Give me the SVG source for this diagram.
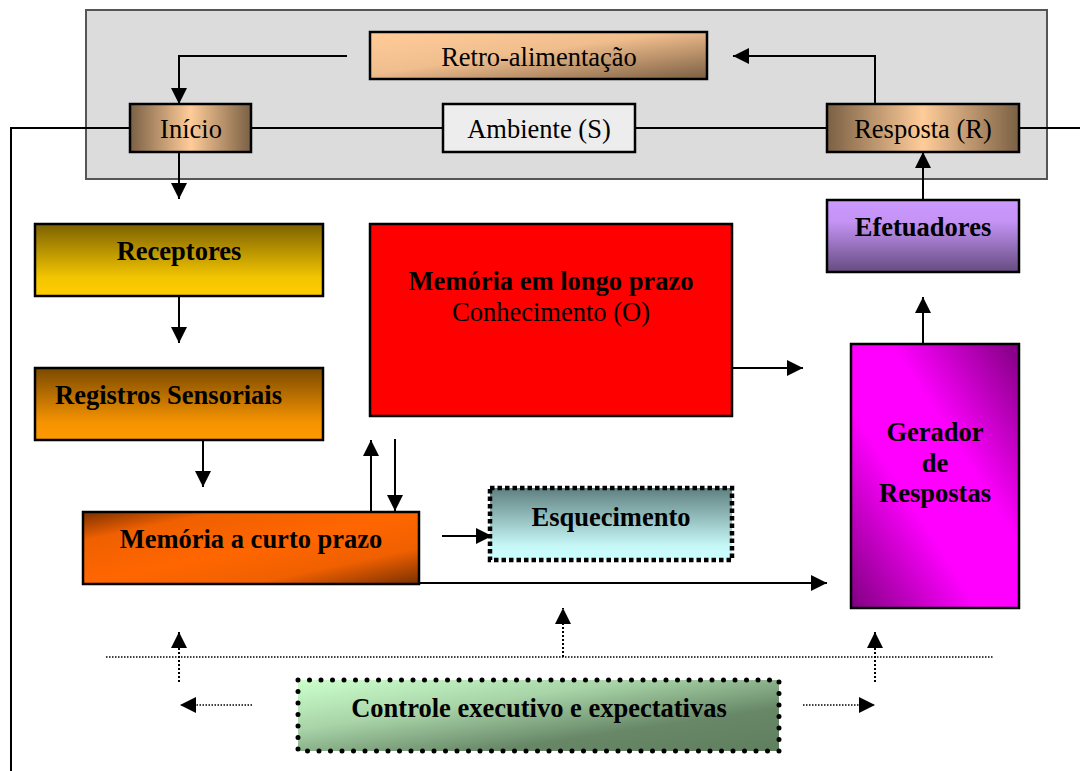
<svg xmlns="http://www.w3.org/2000/svg" width="1080" height="771" viewBox="0 0 1080 771">
  <defs>
    <marker id="arrow" markerUnits="userSpaceOnUse" markerWidth="17" markerHeight="17" refX="16" refY="8" orient="auto">
      <path d="M0,0 L16,8 L0,16 z" fill="#000"/>
    </marker>
    <linearGradient id="gRetro" x1="0" y1="0" x2="1" y2="1">
      <stop offset="0" stop-color="#ffcc99"/>
      <stop offset="0.45" stop-color="#f0bd8d"/>
      <stop offset="1" stop-color="#7a5e42"/>
    </linearGradient>
    <linearGradient id="gBrownH" x1="0" y1="0" x2="1" y2="0">
      <stop offset="0" stop-color="#7a6044"/>
      <stop offset="0.5" stop-color="#ffcc99"/>
      <stop offset="1" stop-color="#7a6044"/>
    </linearGradient>
    <linearGradient id="gRecept" x1="0" y1="0" x2="0" y2="1">
      <stop offset="0" stop-color="#7c6100"/>
      <stop offset="0.75" stop-color="#f4c600"/>
      <stop offset="1" stop-color="#ffcc00"/>
    </linearGradient>
    <linearGradient id="gRegist" x1="0" y1="0" x2="0" y2="1">
      <stop offset="0" stop-color="#7a4a00"/>
      <stop offset="0.75" stop-color="#f59300"/>
      <stop offset="1" stop-color="#ff9900"/>
    </linearGradient>
    <linearGradient id="gCurto" x1="0" y1="0" x2="1" y2="1">
      <stop offset="0" stop-color="#7a3000"/>
      <stop offset="0.2" stop-color="#f06000"/>
      <stop offset="0.5" stop-color="#ff6600"/>
      <stop offset="0.75" stop-color="#f06000"/>
      <stop offset="1" stop-color="#7a3000"/>
    </linearGradient>
    <linearGradient id="gEsq" x1="0" y1="0" x2="0" y2="1">
      <stop offset="0" stop-color="#5f7f7f"/>
      <stop offset="0.8" stop-color="#c6f7f7"/>
      <stop offset="1" stop-color="#ccffff"/>
    </linearGradient>
    <linearGradient id="gEfet" x1="0" y1="0" x2="0" y2="1">
      <stop offset="0" stop-color="#cc99ff"/>
      <stop offset="0.3" stop-color="#c493f5"/>
      <stop offset="1" stop-color="#664c80"/>
    </linearGradient>
    <linearGradient id="gGerador" x1="1" y1="0" x2="0" y2="1">
      <stop offset="0" stop-color="#800080"/>
      <stop offset="0.38" stop-color="#ff00ff"/>
      <stop offset="0.62" stop-color="#ff00ff"/>
      <stop offset="1" stop-color="#800080"/>
    </linearGradient>
    <linearGradient id="gControle" x1="0" y1="0" x2="1" y2="1">
      <stop offset="0" stop-color="#ccffcc"/>
      <stop offset="0.35" stop-color="#a8d4a8"/>
      <stop offset="0.7" stop-color="#678767"/>
      <stop offset="1" stop-color="#5f7f5f"/>
    </linearGradient>
    <style>
      .box { stroke: #000; stroke-width: 2.5; }
      .t { font-family: "Liberation Serif", "Times New Roman", serif; font-size: 26.5px; fill: #000; text-anchor: middle; }
      .b { font-weight: bold; }
      .ln { fill: none; stroke: #000; stroke-width: 2; }
      .arr { marker-end: url(#arrow); }
      .dot { fill: none; stroke: #000; stroke-width: 1.5; stroke-dasharray: 1.5 1.5; }
      .dotv { fill: none; stroke: #000; stroke-width: 2; stroke-dasharray: 2 2; }
    </style>
  </defs>

  <rect width="1080" height="771" fill="#fff"/>

  <!-- environment band -->
  <g id="ambiente-frame">
    <rect x="86" y="10" width="961" height="169" fill="#dcdcdc" stroke="#555" stroke-width="2"/>
  </g>

  <g id="connectors">
    <!-- feedback loop -->
    <polyline class="ln arr" points="347,56 179,56 179,104"/>
    <polyline class="ln arr" points="875,104 875,56 733,56"/>
    <!-- environment line -->
    <line class="ln" x1="251" y1="128" x2="443" y2="128"/>
    <line class="ln" x1="635" y1="128" x2="827" y2="128"/>
    <polyline class="ln" points="130,128 11,128 11,771"/>
    <line class="ln" x1="1019" y1="128" x2="1080" y2="128"/>
    <!-- processing chain -->
    <line class="ln arr" x1="179" y1="152" x2="179" y2="199"/>
    <line class="ln arr" x1="179" y1="296" x2="179" y2="343"/>
    <line class="ln arr" x1="203" y1="440" x2="203" y2="487"/>
    <line class="ln arr" x1="371" y1="512" x2="371" y2="440"/>
    <line class="ln arr" x1="395" y1="439" x2="395" y2="511"/>
    <line class="ln arr" x1="442" y1="536" x2="492" y2="536"/>
    <line class="ln arr" x1="419" y1="583" x2="827" y2="583"/>
    <line class="ln arr" x1="732" y1="368" x2="803" y2="368"/>
    <line class="ln arr" x1="923" y1="344" x2="923" y2="297"/>
    <line class="ln arr" x1="923" y1="200" x2="923" y2="152"/>
    <!-- executive control -->
    <line class="dot" x1="106" y1="657" x2="993" y2="657"/>
    <line class="dotv arr" x1="179" y1="682" x2="179" y2="632"/>
    <line class="dotv arr" x1="563" y1="657" x2="563" y2="608"/>
    <line class="dotv arr" x1="875" y1="682" x2="875" y2="632"/>
    <line class="dot arr" x1="252" y1="705" x2="180" y2="705"/>
    <line class="dot arr" x1="803" y1="705" x2="875" y2="705"/>
  </g>

  <g id="retro">
    <rect class="box" x="370" y="32" width="337" height="47" fill="url(#gRetro)"/>
    <text class="t" x="539" y="66">Retro-alimentação</text>
  </g>
  <g id="inicio">
    <rect class="box" x="130" y="104" width="121" height="48" fill="url(#gBrownH)"/>
    <text class="t" x="191" y="138">Início</text>
  </g>
  <g id="ambiente">
    <rect class="box" x="443" y="104" width="192" height="48" fill="#ededed"/>
    <text class="t" x="539" y="138">Ambiente (S)</text>
  </g>
  <g id="resposta">
    <rect class="box" x="827" y="104" width="192" height="48" fill="url(#gBrownH)"/>
    <text class="t" x="923" y="138">Resposta (R)</text>
  </g>
  <g id="receptores">
    <rect class="box" x="35" y="224" width="288" height="72" fill="url(#gRecept)"/>
    <text class="t b" x="179" y="260">Receptores</text>
  </g>
  <g id="registros">
    <rect class="box" x="35" y="368" width="288" height="72" fill="url(#gRegist)"/>
    <text class="t b" x="55" y="404" style="text-anchor:start">Registros Sensoriais</text>
  </g>
  <g id="memoria-curto">
    <rect class="box" x="83" y="512" width="336" height="72" fill="url(#gCurto)"/>
    <text class="t b" x="251" y="548">Memória a curto prazo</text>
  </g>
  <g id="memoria-longo">
    <rect class="box" x="370" y="224" width="362" height="192" fill="#ff0000"/>
    <text class="t b" x="551" y="290">Memória em longo prazo</text>
    <text class="t" x="551" y="321">Conhecimento (O)</text>
  </g>
  <g id="esquecimento">
    <rect x="490" y="488" width="242" height="72" fill="url(#gEsq)" stroke="#000" stroke-width="4.5" stroke-dasharray="4.5 3"/>
    <text class="t b" x="611" y="526">Esquecimento</text>
  </g>
  <g id="efetuadores">
    <rect class="box" x="827" y="200" width="192" height="72" fill="url(#gEfet)"/>
    <text class="t b" x="923" y="236">Efetuadores</text>
  </g>
  <g id="gerador">
    <rect class="box" x="851" y="344" width="168" height="264" fill="url(#gGerador)"/>
    <text class="t b" x="935" y="441">Gerador</text>
    <text class="t b" x="935" y="472">de</text>
    <text class="t b" x="935" y="502">Respostas</text>
  </g>
  <g id="controle">
    <rect x="298" y="680" width="481" height="71" fill="url(#gControle)" stroke="#000" stroke-width="5" stroke-linecap="round" stroke-dasharray="0 11.5"/>
    <text class="t b" x="539" y="717">Controle executivo e expectativas</text>
  </g>
</svg>
